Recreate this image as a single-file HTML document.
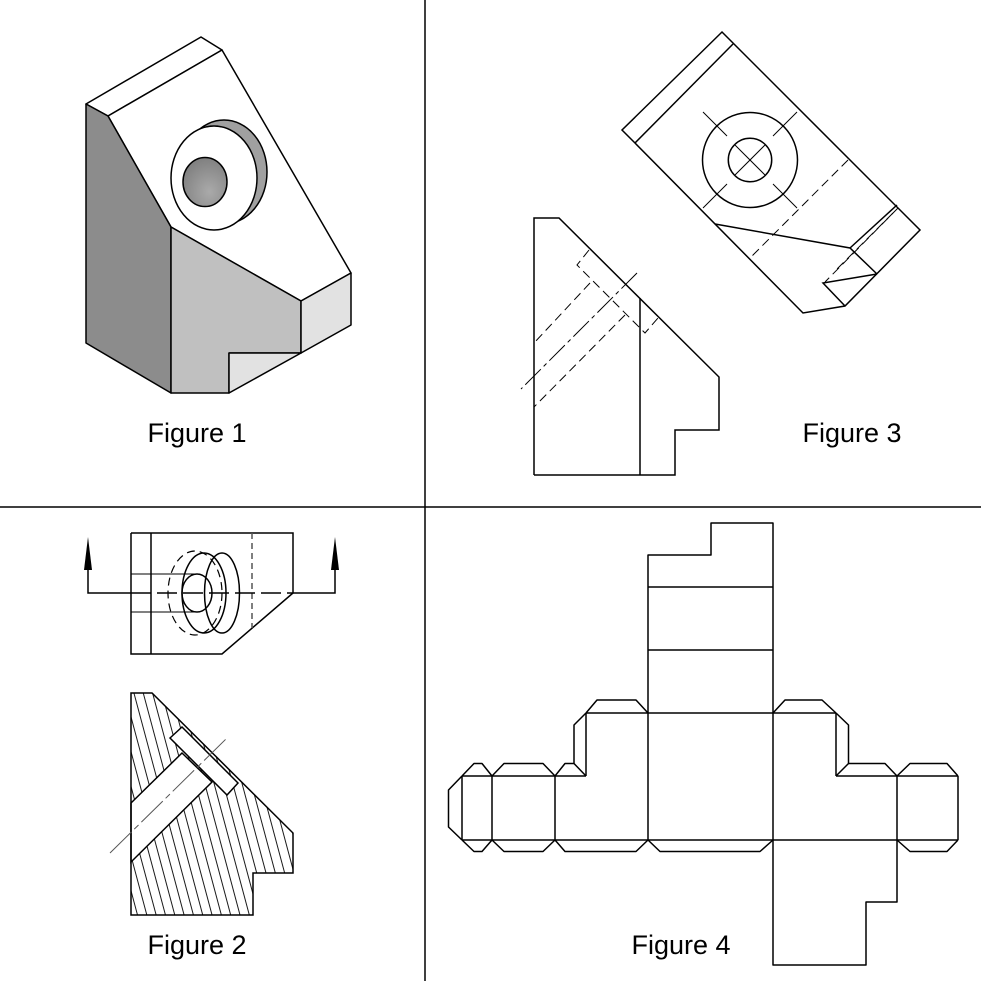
<!DOCTYPE html>
<html><head><meta charset="utf-8"><style>
html,body{margin:0;padding:0;background:#fff;}
svg{display:block;}
text{font-family:"Liberation Sans",sans-serif;font-size:27px;fill:#000;}
</style></head><body>
<svg width="981" height="981" viewBox="0 0 981 981" xmlns="http://www.w3.org/2000/svg">
<defs>
<radialGradient id="hg" cx="0.6" cy="0.7" r="0.7"><stop offset="0" stop-color="#aaa"/><stop offset="1" stop-color="#808080"/></radialGradient>
<pattern id="hatch" width="9" height="9" patternUnits="userSpaceOnUse" patternTransform="rotate(-15)">
<line x1="4" y1="0" x2="4" y2="9" stroke="#000" stroke-width="0.9"/></pattern>
<clipPath id="sec"><polygon points="131,693 152,693 293,833 293,873 253,873 253,915 131,915"/></clipPath>
</defs>
<line x1="425" y1="0" x2="425" y2="981" stroke="#000" stroke-width="1.5"/>
<line x1="0" y1="507" x2="981" y2="507" stroke="#000" stroke-width="1.5"/>

<!-- Figure 1 -->
<g stroke="#000" stroke-width="1.5" stroke-linejoin="round">
<polygon points="86,104 201,37 222,50 108,116" fill="#fff"/>
<polygon points="108,116 222,50 351,273 301,301 171,227" fill="#fff"/>
<polygon points="86,104 108,116 171,227 171,393 86,343" fill="#8c8c8c"/>
<polygon points="171,227 301,301 301,353 229,353 229,393 171,393" fill="#c0c0c0"/>
<polygon points="301,301 351,273 351,325 301,353" fill="#e2e2e2"/>
<polygon points="229,353 301,353 229,393" fill="#e2e2e2"/>
<ellipse cx="224" cy="172" rx="43" ry="52" fill="#a0a0a0"/>
<ellipse cx="214" cy="178" rx="43" ry="52" fill="#fff"/>
<ellipse cx="205" cy="182" rx="22" ry="24.5" fill="url(#hg)"/>
</g>
<text x="197" y="442" text-anchor="middle">Figure 1</text>

<!-- Figure 3 -->
<g stroke="#000" stroke-width="1.5" fill="none">
<polyline points="534,475 534,218 559,218 719,377 719,430 675,430 675,475 534,475"/>
<line x1="640" y1="298" x2="640" y2="475"/>
<polygon points="722,32 920,230 845,306 803,313 635,143 622,130"/>
<line x1="635" y1="143" x2="733" y2="44"/>
<polyline points="715,224 850,248 877,274"/>
<polyline points="850,248 897,205"/>
<polyline points="877,274 823,283 845,306"/>
<circle cx="750" cy="160" r="47.5"/>
<circle cx="750" cy="160" r="21.7"/>
</g>
<g stroke="#000" stroke-width="1" fill="none">
<line x1="735" y1="145" x2="765" y2="175"/><line x1="765" y1="145" x2="735" y2="175"/>
<line x1="703" y1="112" x2="727" y2="136"/><line x1="797" y1="112" x2="773" y2="136"/>
<line x1="703" y1="208" x2="727" y2="184"/><line x1="797" y1="208" x2="773" y2="184"/>
<g stroke-dasharray="9,5">
<line x1="848" y1="160" x2="750" y2="258"/>
<line x1="898" y1="208" x2="825" y2="282"/>
<line x1="893" y1="213" x2="836" y2="270"/>
<polyline points="589,250 577,265 645,333 658,318"/>
<line x1="590" y1="283" x2="534" y2="343"/>
<line x1="625" y1="315" x2="534" y2="407"/>
</g>
<line x1="637" y1="273" x2="521" y2="389" stroke-dasharray="22,4,4,4"/>
</g>
<text x="852" y="442" text-anchor="middle">Figure 3</text>

<!-- Figure 2 -->
<g stroke="#000" stroke-width="1.5" fill="none">
<polyline points="131,533 293,533 293,593 222,654 131,654 131,533"/>
<line x1="151" y1="533" x2="151" y2="654"/>
<line x1="252" y1="533" x2="252" y2="628" stroke-dasharray="6,4" stroke="#555"/>
<ellipse cx="195" cy="593" rx="27" ry="42" stroke-dasharray="8,5" stroke-width="1.2"/>
<ellipse cx="204" cy="593" rx="22" ry="40"/>
<ellipse cx="222" cy="593" rx="17.5" ry="40"/>
<ellipse cx="197" cy="593" rx="15" ry="19"/>
<polyline points="88,570 88,593 131,593"/>
<line x1="131" y1="593" x2="293" y2="593" stroke-dasharray="20,6"/>
<polyline points="293,593 335,593 335,570"/>
</g>
<g stroke="#000" stroke-width="1" fill="none">
<line x1="131" y1="574" x2="200" y2="574"/><line x1="131" y1="612" x2="200" y2="612"/>
</g>
<polygon points="88,537 84,570 92,570" fill="#000"/>
<polygon points="335,537 331,570 339,570" fill="#000"/>
<g clip-path="url(#sec)"><rect x="120" y="690" width="180" height="230" fill="url(#hatch)"/></g>
<polygon points="131,803 182,753 212,782 131,862" fill="#fff" stroke="#000" stroke-width="1.5"/>
<polygon points="170,738 182,727 238,783 227,795" fill="#fff" stroke="#000" stroke-width="1.5"/>
<polygon points="131,693 152,693 293,833 293,873 253,873 253,915 131,915" fill="none" stroke="#000" stroke-width="1.5"/>
<line x1="110" y1="853" x2="227" y2="738" stroke="#555" stroke-width="1" stroke-dasharray="30,4,6,4"/>
<text x="197" y="954" text-anchor="middle">Figure 2</text>

<!-- Figure 4 -->
<g stroke="#000" stroke-width="1.5" fill="none" stroke-linejoin="round">
<polyline points="648,713 648,555 711,555 711,523 773,523 773,965 866,965 866,902 897,902 897,840"/>
<line x1="648" y1="587" x2="773" y2="587"/>
<line x1="648" y1="650" x2="773" y2="650"/>
<line x1="586" y1="713" x2="836" y2="713"/>
<line x1="462" y1="840" x2="958" y2="840"/>
<line x1="462" y1="776" x2="586" y2="776"/>
<line x1="836" y1="776" x2="958" y2="776"/>
<line x1="462" y1="776" x2="462" y2="840"/>
<line x1="492" y1="776" x2="492" y2="840"/>
<line x1="555" y1="776" x2="555" y2="840"/>
<line x1="586" y1="713" x2="586" y2="776"/>
<line x1="648" y1="713" x2="648" y2="840"/>
<line x1="836" y1="713" x2="836" y2="776"/>
<line x1="897" y1="776" x2="897" y2="840"/>
<line x1="958" y1="776" x2="958" y2="840"/>
<polyline points="586,713 597,700 636,700 648,713"/>
<polyline points="773,713 785,700 822,700 836,713"/>
<polyline points="586,713 574,725 574,763.5 586,776"/>
<polyline points="555,776 565,763.5 574,763.5"/>
<polyline points="836,713 848.5,725 848.5,763.5 836,776"/>
<polyline points="848.5,763.5 885,763.5 897,776"/>
<polyline points="492,776 504,763.5 543,763.5 555,776"/>
<polyline points="462,776 474,763.5 482,763.5 492,776"/>
<polyline points="462,776 448.5,790 448.5,827 462,840"/>
<polyline points="897,776 910,763.5 947,763.5 958,776"/>
<polyline points="462,840 474,851.5 482,851.5 492,840"/>
<polyline points="492,840 504,851.5 543,851.5 555,840"/>
<polyline points="555,840 565,851.5 636,851.5 648,840"/>
<polyline points="648,840 660,851.5 760,851.5 773,840"/>
<polyline points="897,840 910,851.5 947,851.5 958,840"/>
</g>
<text x="681" y="954" text-anchor="middle">Figure 4</text>
</svg>
</body></html>
